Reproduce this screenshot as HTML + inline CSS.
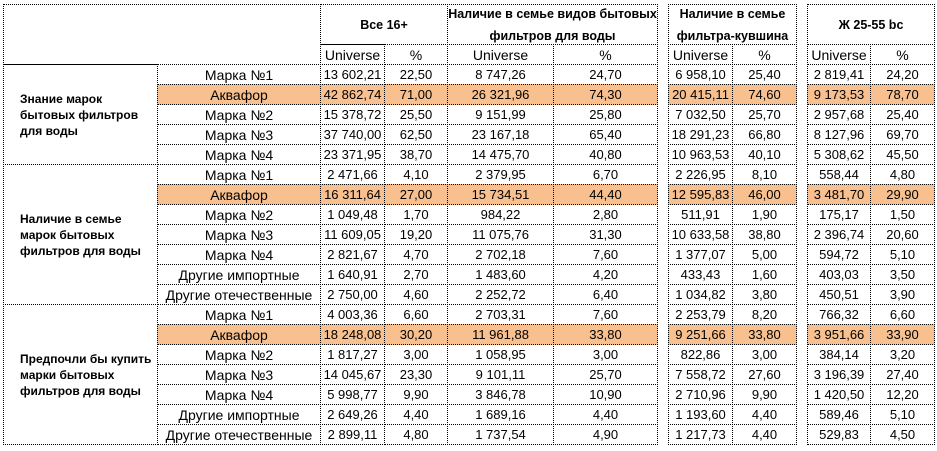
<!DOCTYPE html>
<html><head><meta charset="utf-8">
<style>
body{margin:0;background:#fff;width:937px;height:451px;overflow:hidden;font-family:"Liberation Sans",sans-serif;color:#000}
#t{position:relative;width:937px;height:451px}
.c{position:absolute;box-sizing:border-box;border:1px dotted #000;display:flex;align-items:center;justify-content:center;white-space:nowrap;margin:0 -1px -1px 0}
.n{font-size:13px}
.b{font-size:14px}
.h{font-size:12.5px;font-weight:bold;text-align:center;line-height:22px;white-space:normal}
.g{font-size:12px;font-weight:bold;justify-content:flex-start;padding-left:16px;white-space:normal;line-height:16px}
.o{background:#f8c08f}
</style></head><body>
<div id="t"></div>
<script>
const groups=["Знание марок бытовых фильтров для воды","Наличие в семье марок бытовых фильтров для воды","Предпочли бы купить марки бытовых фильтров для воды"];
const headers=["Все 16+","Наличие в семье видов бытовых фильтров для воды","Наличие в семье фильтра-кувшина","Ж 25-55 bc"];
const brandsA=["Марка №1","Аквафор","Марка №2","Марка №3","Марка №4"];
const brandsB=["Марка №1","Аквафор","Марка №2","Марка №3","Марка №4","Другие импортные","Другие отечественные"];
const values=[
[["13 602,21","22,50"],["8 747,26","24,70"],["6 958,10","25,40"],["2 819,41","24,20"]],
[["42 862,74","71,00"],["26 321,96","74,30"],["20 415,11","74,60"],["9 173,53","78,70"]],
[["15 378,72","25,50"],["9 151,99","25,80"],["7 032,50","25,70"],["2 957,68","25,40"]],
[["37 740,00","62,50"],["23 167,18","65,40"],["18 291,23","66,80"],["8 127,96","69,70"]],
[["23 371,95","38,70"],["14 475,70","40,80"],["10 963,53","40,10"],["5 308,62","45,50"]],
[["2 471,66","4,10"],["2 379,95","6,70"],["2 226,95","8,10"],["558,44","4,80"]],
[["16 311,64","27,00"],["15 734,51","44,40"],["12 595,83","46,00"],["3 481,70","29,90"]],
[["1 049,48","1,70"],["984,22","2,80"],["511,91","1,90"],["175,17","1,50"]],
[["11 609,05","19,20"],["11 075,76","31,30"],["10 633,58","38,80"],["2 396,74","20,60"]],
[["2 821,67","4,70"],["2 702,18","7,60"],["1 377,07","5,00"],["594,72","5,10"]],
[["1 640,91","2,70"],["1 483,60","4,20"],["433,43","1,60"],["403,03","3,50"]],
[["2 750,00","4,60"],["2 252,72","6,40"],["1 034,82","3,80"],["450,51","3,90"]],
[["4 003,36","6,60"],["2 703,31","7,60"],["2 253,79","8,20"],["766,32","6,60"]],
[["18 248,08","30,20"],["11 961,88","33,80"],["9 251,66","33,80"],["3 951,66","33,90"]],
[["1 817,27","3,00"],["1 058,95","3,00"],["822,86","3,00"],["384,14","3,20"]],
[["14 045,67","23,30"],["9 101,11","25,70"],["7 558,72","27,60"],["3 196,39","27,40"]],
[["5 998,77","9,90"],["3 846,78","10,90"],["2 710,96","9,90"],["1 420,50","12,20"]],
[["2 649,26","4,40"],["1 689,16","4,40"],["1 193,60","4,40"],["589,46","5,10"]],
[["2 899,11","4,80"],["1 737,54","4,90"],["1 217,73","4,40"],["529,83","4,50"]]
];
const T=document.getElementById('t');
function cell(x,y,w,h,cls,txt,name){
  const d=document.createElement('div');
  d.className='c '+cls;
  d.style.left=x+'px';d.style.top=y+'px';d.style.width=(w+1)+'px';d.style.height=(h+1)+'px';
  d.textContent=txt;
  
  
  T.appendChild(d);return d;
}
const cols=[[320,384,447],[447,553,657],[668,732,796],[807,870,934]];
const top0=4,h1=40,h2=20,rowH=20,y0=64;
cell(3,top0,317,60,'','', 'corner-header');
cols.forEach((c,i)=>{
  cell(c[0],top0,c[2]-c[0],h1,'h',headers[i],'column-group-header');
  cell(c[0],top0+h1,c[1]-c[0],h2,'b','Universe','universe-header');
  cell(c[1],top0+h1,c[2]-c[1],h2,'b','%','percent-header');
});
const sizes=[brandsA.length,brandsB.length,brandsB.length];
let r=0;
groups.forEach((g,gi)=>{
  const list=gi===0?brandsA:brandsB;
  const gy=y0+r*rowH;
  cell(3,gy,154,list.length*rowH,'g',g,'row-group-label');
  list.forEach((b,bi)=>{
    const y=y0+r*rowH;
    const o=b==='Аквафор'?' o':'';
    cell(157,y,163,rowH,'b'+o,b,'brand-label');
    cols.forEach((c,ci)=>{
      cell(c[0],y,c[1]-c[0],rowH,'n'+o,values[r][ci][0],'universe-value');
      cell(c[1],y,c[2]-c[1],rowH,'n'+o,values[r][ci][1],'percent-value');
    });
    r++;
  });
});
</script>
</body></html>
